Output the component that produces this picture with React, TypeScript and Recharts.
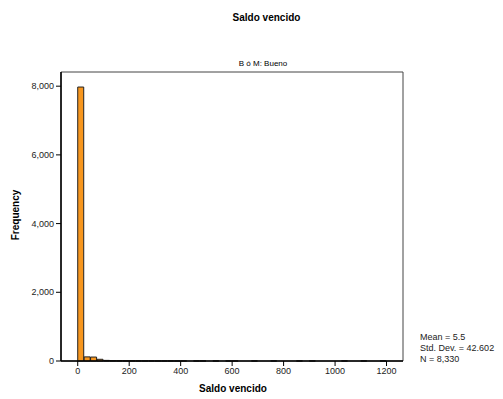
import React from 'react';
import { ComposedChart, Bar, XAxis, YAxis, ReferenceArea } from 'recharts';

// bin centres (width 25) and counts per bin
const binCenters = [
  12.5, 37.5, 62.5, 87.5, 112.5, 137.5, 162.5, 187.5, 212.5, 237.5, 262.5, 287.5,
  312.5, 337.5, 362.5, 387.5, 412.5, 437.5, 462.5, 487.5, 512.5, 537.5, 562.5, 587.5,
  612.5, 637.5, 662.5, 687.5, 712.5, 737.5, 762.5, 787.5, 812.5, 837.5, 862.5, 887.5,
  912.5, 937.5, 962.5, 987.5, 1012.5, 1037.5, 1062.5, 1087.5, 1112.5, 1137.5, 1162.5, 1187.5,
];
const counts = [
  7975, 120, 115, 50, 18, 9, 7, 5, 4, 3, 2, 3,
  2, 1, 2, 1, 1, 0, 1, 1, 0, 1, 0, 1,
  1, 0, 0, 1, 0, 0, 1, 0, 0, 0, 1, 0,
  1, 0, 0, 0, 0, 1, 0, 0, 1, 0, 0, 1,
];
const xTicks = [0, 200, 400, 600, 800, 1000, 1200];
const yTicks = [0, 2000, 4000, 6000, 8000];
const statLines = ['Mean = 5.5', 'Std. Dev. = 42.602', 'N = 8,330'];

const chartData = binCenters.map((x, i) => ({ x, count: counts[i] }));

const font = '"Liberation Sans", Arial, sans-serif';
const X_MIN = -65;
const X_MAX = 1264;
const Y_MAX = 8413;

export default function App() {
  return (
    <div style={{ position: 'absolute', left: 0, top: 0, width: 503, height: 399, fontFamily: font, background: '#fff' }}>
      <div style={{ position: 'absolute', left: 0, width: 533, top: 12, textAlign: 'center', fontSize: 10, fontWeight: 'bold' }}>
        Saldo vencido
      </div>
      <div style={{ position: 'absolute', left: 0, width: 526, top: 59, textAlign: 'center', fontSize: 8 }}>
        B ó M: Bueno
      </div>
      <ComposedChart
        width={503}
        height={399}
        data={chartData}
        margin={{ top: 72, right: 100, left: 0, bottom: 0 }}
        barCategoryGap={0}
        barGap={0}
        style={{ position: 'absolute', left: 0, top: 0 }}
      >
        <XAxis
          dataKey="x"
          type="number"
          domain={[X_MIN, X_MAX]}
          ticks={xTicks}
          allowDataOverflow
          height={38}
          tickSize={5}
          axisLine={{ stroke: '#000', strokeWidth: 1.5 }}
          tickLine={{ stroke: '#000' }}
          tick={{ fontSize: 9, fill: '#222', fontFamily: font }}
        />
        <YAxis
          type="number"
          domain={[0, Y_MAX]}
          ticks={yTicks}
          width={61}
          tickSize={5}
          tickFormatter={(v) => Number(v).toLocaleString('en-US')}
          axisLine={{ stroke: '#000', strokeWidth: 1.5 }}
          tickLine={{ stroke: '#000' }}
          tick={{ fontSize: 9, fill: '#222', fontFamily: font }}
        />
        <ReferenceArea x1={X_MIN} x2={X_MAX} y1={0} y2={Y_MAX} fill="none" stroke="#444" strokeWidth={1} ifOverflow="visible" />
        <Bar dataKey="count" fill="#f7961e" stroke="#222" strokeWidth={1} isAnimationActive={false} />
      </ComposedChart>
      <div style={{ position: 'absolute', left: 198, width: 70, top: 383, textAlign: 'center', fontSize: 10, fontWeight: 'bold' }}>
        Saldo vencido
      </div>
      <div
        style={{
          position: 'absolute',
          left: 15,
          top: 215,
          transform: 'translate(-50%, -50%) rotate(-90deg)',
          fontSize: 10,
          fontWeight: 'bold',
          whiteSpace: 'nowrap',
        }}
      >
        Frequency
      </div>
      <div style={{ position: 'absolute', left: 420, top: 332, fontSize: 9, lineHeight: '11px', color: '#222' }}>
        {statLines.map((s) => (
          <div key={s}>{s}</div>
        ))}
      </div>
    </div>
  );
}
